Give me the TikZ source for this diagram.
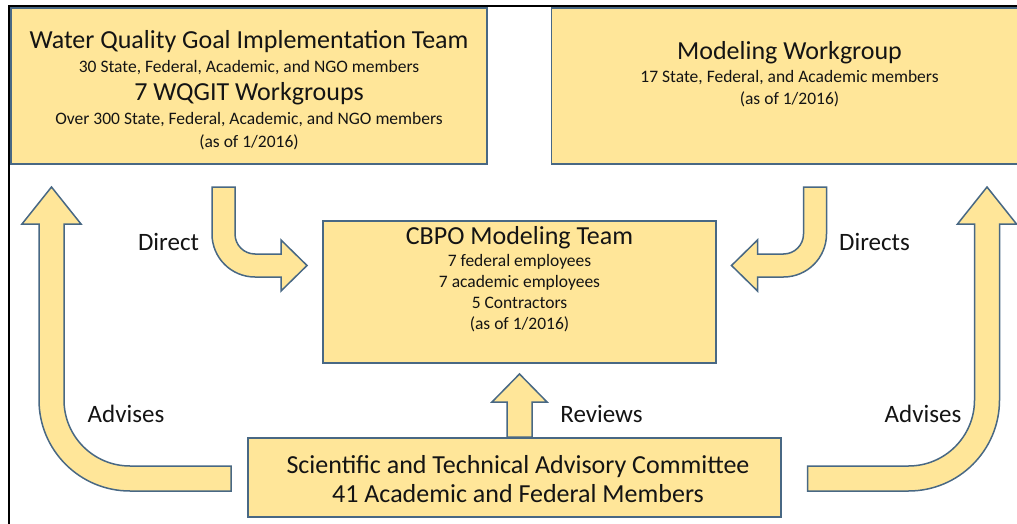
\documentclass[tikz,border=0pt]{standalone}
\usepackage{fontspec}
\setmainfont{Carlito}
\definecolor{boxfill}{RGB}{255,230,153}
\definecolor{boxline}{RGB}{72,104,132}
\definecolor{txt}{RGB}{20,20,20}
\tikzset{
  box/.style={draw=boxline, fill=boxfill, line width=1.5pt, inner sep=0pt},
  bigtxt/.style={font=\fontsize{26}{30}\selectfont, text=txt, anchor=base, inner sep=0pt},
  smalltxt/.style={font=\fontsize{17.5}{21}\selectfont, text=txt, anchor=base, inner sep=0pt},
  labeltxt/.style={font=\fontsize{25}{30}\selectfont, text=txt, anchor=base, inner sep=0pt},
  blockarrow/.style={draw=boxline, fill=boxfill, line width=1.5pt, line join=miter},
  frameline/.style={draw=black, line width=2pt}
}
\begin{document}
\begin{tikzpicture}[x=1pt,y=-1pt]
\useasboundingbox (0,0) rectangle (1017,524);
\clip (0,0) rectangle (1017,524);
\fill[white] (0,0) rectangle (1017,524);
% frame
\draw[frameline] (9,524) -- (9,6) -- (1017,6);
% boxes
\node[box, minimum width=476pt, minimum height=156pt] (wqgit) at (249,86) {};
\node[box, minimum width=476pt, minimum height=156pt] (mwg) at (789.5,86) {};
\node[box, minimum width=393pt, minimum height=142pt] (cbpo) at (519.5,292) {};
\node[box, minimum width=533pt, minimum height=79pt] (stac) at (514.5,477.5) {};
% WQGIT text
\node[bigtxt] (w1) at (249,49) {Water Quality Goal Implementation Team};
\node[smalltxt] (w2) at (249,73) {30 State, Federal, Academic, and NGO members};
\node[bigtxt] (w3) at (249,100.5) {7 WQGIT Workgroups};
\node[smalltxt] (w4) at (249,124.5) {Over 300 State, Federal, Academic, and NGO members};
\node[smalltxt] (w5) at (249,147) {(as of 1/2016)};
% Modeling workgroup text
\node[bigtxt] (m1) at (789.5,59.5) {Modeling Workgroup};
\node[smalltxt] (m2) at (789.5,82.5) {17 State, Federal, and Academic members};
\node[smalltxt] (m3) at (789.5,104.5) {(as of 1/2016)};
% CBPO text
\node[bigtxt] (c1) at (519.5,244) {CBPO Modeling Team};
\node[smalltxt] (c2) at (519.5,266) {7 federal employees};
\node[smalltxt] (c3) at (519.5,287) {7 academic employees};
\node[smalltxt] (c4) at (519.5,308) {5 Contractors};
\node[smalltxt] (c5) at (519.5,329) {(as of 1/2016)};
% STAC text
\node[bigtxt] (s1) at (518,473.5) {Scientific and Technical Advisory Committee};
\node[bigtxt] (s2) at (518,502.5) {41 Academic and Federal Members};
% left Advises arrow
\draw[blockarrow] (51.5,187) -- (81,224) -- (64,224) -- (64,400)
  arc[start angle=180,end angle=270,radius=66pt] -- (231,466) -- (231,491) -- (130,491)
  arc[start angle=270,end angle=180,radius=91pt] -- (39,224) -- (22,224) -- cycle;
% right Advises arrow
\draw[blockarrow] (987,187) -- (1016.5,224) -- (999.5,224) -- (999.5,400)
  arc[start angle=0,end angle=-90,radius=91pt] -- (807.5,491) -- (807.5,466) -- (908.5,466)
  arc[start angle=270,end angle=360,radius=66pt] -- (974.5,224) -- (957.5,224) -- cycle;
% left Direct arrow
\draw[blockarrow] (212,187) -- (235,187) -- (235,234)
  arc[start angle=180,end angle=270,radius=20pt] -- (281,254) -- (281,240) -- (307,265.5)
  -- (281,291) -- (281,277) -- (255,277)
  arc[start angle=270,end angle=180,radius=43pt] -- cycle;
% right Directs arrow
\draw[blockarrow] (826.5,187) -- (803.5,187) -- (803.5,234)
  arc[start angle=0,end angle=-90,radius=20pt] -- (757.5,254) -- (757.5,240) -- (731.5,265.5)
  -- (757.5,291) -- (757.5,277) -- (783.5,277)
  arc[start angle=270,end angle=360,radius=43pt] -- cycle;
% Reviews arrow
\draw[blockarrow] (519.5,374) -- (547,402) -- (532,402) -- (532,437) -- (507,437) -- (507,402) -- (492,402) -- cycle;
% labels
\node[labeltxt] (ldirect) at (168.5,250) {Direct};
\node[labeltxt] (ldirects) at (874.5,250) {Directs};
\node[labeltxt] (ladv1) at (126,422) {Advises};
\node[labeltxt] (ladv2) at (923,422) {Advises};
\node[labeltxt] (lrev) at (601.5,422) {Reviews};
\end{tikzpicture}
\end{document}
